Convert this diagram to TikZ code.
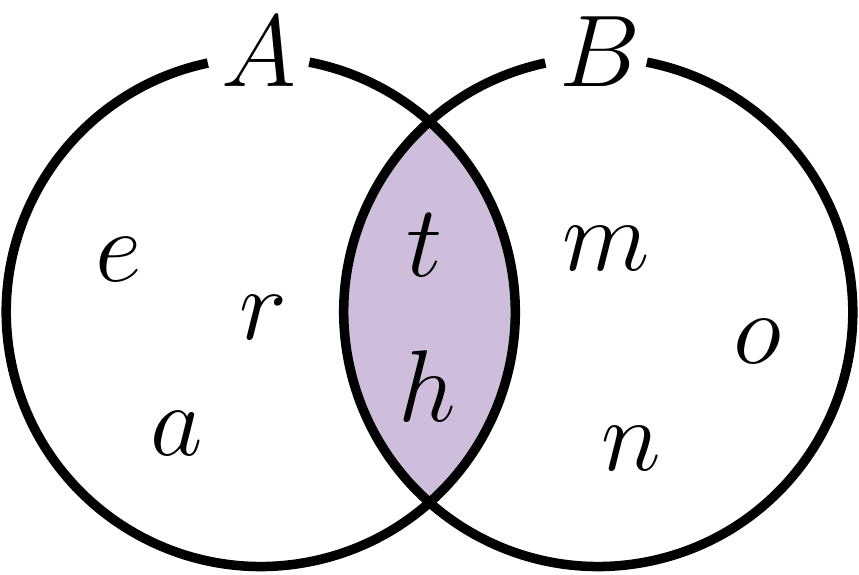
\documentclass[tikz,border=0pt]{standalone}
\definecolor{lenscol}{RGB}{206,190,220}
\begin{document}
\begin{tikzpicture}[x=1pt,y=1pt,
  ring/.style={line width=9.5pt},
  lbl/.style={inner sep=0pt, anchor=base, font=\Huge, scale=4.1, transform shape}]
\useasboundingbox (0,0) rectangle (859,575);
\coordinate (ca) at (260.75,263);
\coordinate (cb) at (598.25,263);
\begin{scope}
  \clip (ca) circle (254.5pt);
  \fill[lenscol] (cb) circle (254.5pt);
\end{scope}
\draw[ring] (ca) ++(102:254.5pt) arc[start angle=102, end angle=439, radius=254.5pt];
\draw[ring] (cb) ++(102:254.5pt) arc[start angle=102, end angle=439, radius=254.5pt];
\node[lbl] (la) at (259,488) {$A$};
\node[lbl] (lb) at (600,488) {$B$};
\node[lbl] (e) at (119,293) {$e$};
\node[lbl] (r) at (263,235) {$r$};
\node[lbl] (a) at (177,119) {$a$};
\node[lbl] (t) at (425,298) {$t$};
\node[lbl] (h) at (427,153) {$h$};
\node[lbl] (m) at (606,304) {$m$};
\node[lbl] (o) at (757,211) {$o$};
\node[lbl] (n) at (631,104) {$n$};
\end{tikzpicture}
\end{document}
